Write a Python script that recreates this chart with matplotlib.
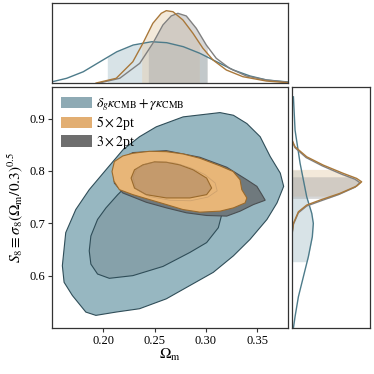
import numpy as np
import matplotlib
matplotlib.use("Agg")
import matplotlib.pyplot as plt
from matplotlib.patches import Patch

plt.rcParams["font.family"] = ["Liberation Serif", "DejaVu Serif"]
plt.rcParams["mathtext.fontset"] = "stix"
plt.rcParams["font.size"] = 9

# 2D contours (Omega_m, S8)
blue_outer_om = [0.3137, 0.2778, 0.2516, 0.2353, 0.2190, 0.2026, 0.1863, 0.1732, 0.1634,
                 0.1601, 0.1618, 0.1699, 0.1830, 0.1928, 0.2124, 0.2353, 0.2614, 0.2843,
                 0.3072, 0.3268, 0.3431, 0.3595, 0.3693, 0.3758, 0.3725, 0.3627, 0.3529,
                 0.3399, 0.3268]
blue_outer_s8 = [0.9114, 0.9032, 0.8842, 0.8653, 0.8400, 0.8021, 0.7642, 0.7263, 0.6821,
                 0.6189, 0.5873, 0.5620, 0.5304, 0.5241, 0.5304, 0.5368, 0.5557, 0.5810,
                 0.6063, 0.6378, 0.6694, 0.7073, 0.7389, 0.7705, 0.7958, 0.8274, 0.8653,
                 0.8905, 0.9063]
blue_inner_om = [0.1863, 0.1879, 0.1944, 0.2026, 0.2141, 0.2255, 0.2418, 0.2680, 0.2941,
                 0.3137, 0.3163, 0.3121, 0.3007, 0.2843, 0.2582, 0.2288, 0.2059, 0.1944,
                 0.1879]
blue_inner_s8 = [0.6473, 0.6757, 0.7073, 0.7294, 0.7547, 0.7768, 0.7958, 0.8021, 0.7894,
                 0.7579, 0.7231, 0.6915, 0.6631, 0.6442, 0.6176, 0.6000, 0.5949, 0.6031,
                 0.6220]
grey_outer_om = [0.2098, 0.2124, 0.2288, 0.2614, 0.2941, 0.3203, 0.3399, 0.3497, 0.3546,
                 0.3578, 0.3464, 0.3333, 0.3203, 0.3007, 0.2810, 0.2614, 0.2418, 0.2190,
                 0.2108]
grey_outer_s8 = [0.7989, 0.8179, 0.8350, 0.8387, 0.8261, 0.8071, 0.7831, 0.7705, 0.7547,
                 0.7440, 0.7358, 0.7231, 0.7137, 0.7149, 0.7200, 0.7295, 0.7402, 0.7579,
                 0.7768]
grey_inner_om = [0.2290, 0.2330, 0.2420, 0.2550, 0.2700, 0.2850, 0.2990, 0.3090, 0.3110,
                 0.3020, 0.2850, 0.2650, 0.2450, 0.2320]
grey_inner_s8 = [0.7880, 0.8050, 0.8140, 0.8180, 0.8150, 0.8060, 0.7930, 0.7770, 0.7620,
                 0.7500, 0.7430, 0.7440, 0.7510, 0.7650]
orange_outer_om = [0.2085, 0.2108, 0.2190, 0.2288, 0.2451, 0.2614, 0.2778, 0.2941, 0.3137,
                   0.3265, 0.3333, 0.3350, 0.3399, 0.3382, 0.3268, 0.3137, 0.2941, 0.2775,
                   0.2614, 0.2451, 0.2288, 0.2157, 0.2105]
orange_outer_s8 = [0.7989, 0.8179, 0.8286, 0.8337, 0.8375, 0.8368, 0.8324, 0.8242, 0.8097,
                   0.7989, 0.7831, 0.7642, 0.7484, 0.7389, 0.7294, 0.7231, 0.7212, 0.7263,
                   0.7358, 0.7452, 0.7547, 0.7642, 0.7800]
orange_inner_om = [0.2271, 0.2304, 0.2386, 0.2500, 0.2614, 0.2745, 0.2876, 0.3007, 0.3056,
                   0.3007, 0.2843, 0.2614, 0.2418, 0.2304]
orange_inner_s8 = [0.7863, 0.8021, 0.8116, 0.8173, 0.8166, 0.8116, 0.8021, 0.7863, 0.7673,
                   0.7547, 0.7484, 0.7484, 0.7547, 0.7673]

# 1D marginals: Omega_m (top panel)
blue_om_x = [0.1503, 0.1643, 0.1805, 0.1968, 0.2131, 0.2292, 0.2472, 0.2618, 0.2780,
             0.2942, 0.3105, 0.3267, 0.3430, 0.3593, 0.3803]
blue_om_p = [0.016, 0.059, 0.141, 0.266, 0.390, 0.475, 0.516, 0.504, 0.454,
             0.371, 0.266, 0.163, 0.088, 0.038, 0.013]
orange_om_x = [0.1930, 0.2126, 0.2288, 0.2386, 0.2483, 0.2565, 0.2614, 0.2679, 0.2776,
               0.2874, 0.2971, 0.3069, 0.3199, 0.3361, 0.3589, 0.3800]
orange_om_p = [0.000, 0.059, 0.266, 0.496, 0.746, 0.871, 0.904, 0.891, 0.788,
               0.621, 0.434, 0.288, 0.163, 0.079, 0.025, 0.004]
grey_om_x = [0.1960, 0.2160, 0.2355, 0.2483, 0.2581, 0.2662, 0.2727, 0.2809, 0.2906,
             0.3004, 0.3101, 0.3231, 0.3394, 0.3589, 0.3800]
grey_om_p = [0.000, 0.059, 0.246, 0.496, 0.725, 0.838, 0.871, 0.838, 0.684,
             0.475, 0.309, 0.184, 0.088, 0.038, 0.009]

# 1D marginals: S8 (right panel)
blue_s8_y = [0.5000, 0.5216, 0.5597, 0.5979, 0.6361, 0.6743, 0.6998, 0.7189, 0.7506,
             0.8144, 0.8779, 0.9415]
blue_s8_p = [0.017, 0.038, 0.081, 0.145, 0.209, 0.260, 0.273, 0.253, 0.188,
             0.103, 0.038, 0.017]
orange_s8_y = [0.6808, 0.6998, 0.7220, 0.7348, 0.7443, 0.7571, 0.7710, 0.7792, 0.7857,
               0.7953, 0.8111, 0.8270, 0.8461, 0.8588]
orange_s8_p = [0.000, 0.017, 0.081, 0.188, 0.359, 0.615, 0.829, 0.894, 0.829,
               0.658, 0.400, 0.188, 0.038, 0.000]
grey_s8_y = [0.6790, 0.6980, 0.7200, 0.7330, 0.7420, 0.7550, 0.7690, 0.7775, 0.7840,
             0.7935, 0.8095, 0.8255, 0.8445, 0.8575]
grey_s8_p = [0.000, 0.017, 0.081, 0.188, 0.355, 0.600, 0.810, 0.872, 0.810,
             0.640, 0.390, 0.180, 0.036, 0.000]

# 68% intervals
blue_om_band = (0.2039, 0.3008)
orange_om_band = (0.2374, 0.2936)
grey_om_band = (0.2439, 0.3014)
blue_s8_band = (0.6266, 0.8016)
orange_s8_band = (0.7520, 0.8029)
grey_s8_band = (0.7475, 0.7888)

labels = [r"$\delta_g\kappa_{\rm CMB}+\gamma\kappa_{\rm CMB}$", r"$5\times2$pt", r"$3\times2$pt"]

c_blue_out, c_blue_in, c_blue_edge, c_blue_line = "#97b7c1", "#86a1aa", "#2f4d58", "#4d7b8a"
c_or_out, c_or_in, c_or_edge, c_or_line = "#e8b678", "#c49a6c", "#9a6a2c", "#a9783a"
c_gr_out, c_gr_in, c_gr_edge, c_gr_line = "#6f797d", "#6a7276", "#4a4f52", "#808080"

fig = plt.figure(figsize=(3.74, 3.74), dpi=100)
ax = fig.add_axes([0.139, 0.123, 0.631, 0.644])
ax_top = fig.add_axes([0.139, 0.778, 0.631, 0.214])
ax_right = fig.add_axes([0.781, 0.123, 0.208, 0.644])

ax.fill(blue_outer_om, blue_outer_s8, fc=c_blue_out, ec=c_blue_edge, lw=0.8)
ax.fill(blue_inner_om, blue_inner_s8, fc=c_blue_in, ec=c_blue_edge, lw=0.8)
ax.fill(grey_outer_om, grey_outer_s8, fc=c_gr_out, ec=c_gr_edge, lw=0.8)
ax.fill(grey_inner_om, grey_inner_s8, fc=c_gr_in, ec=c_gr_edge, lw=0.8)
ax.fill(orange_outer_om, orange_outer_s8, fc=c_or_out, ec=c_or_edge, lw=0.8)
ax.fill(orange_inner_om, orange_inner_s8, fc=c_or_in, ec=c_or_edge, lw=0.8)
# faint 3x2pt inner line showing through the 5x2pt fill
ax.fill(grey_inner_om, grey_inner_s8, fc="none", ec="#b08a62", lw=0.6, alpha=0.45)

ax.set_xlim(0.15, 0.38)
ax.set_ylim(0.50, 0.96)
ax.set_xticks([0.20, 0.25, 0.30, 0.35])
ax.set_yticks([0.6, 0.7, 0.8, 0.9])
ax.set_xlabel(r"$\Omega_{\rm m}$", fontsize=11, labelpad=0)
ax.set_ylabel(r"$S_8 \equiv \sigma_8(\Omega_{\rm m}/0.3)^{0.5}$", fontsize=11, labelpad=3)
ax.tick_params(length=3, width=0.8, color="#333333", pad=2, labelsize=9)

handles = [Patch(fc="#8eaab4", ec="none"), Patch(fc="#e2ae72", ec="none"),
           Patch(fc="#6e6e6e", ec="none")]
ax.legend(handles, labels, loc="upper left", frameon=False, fontsize=10,
          handlelength=2.2, handleheight=0.9, labelspacing=0.1,
          borderaxespad=0.25, handletextpad=0.3)


def band_poly(x, p, lo, hi):
    x = np.asarray(x)
    p = np.asarray(p)
    inside = (x > lo) & (x < hi)
    xs = np.concatenate([[lo], x[inside], [hi]])
    ps = np.concatenate([[np.interp(lo, x, p)], p[inside], [np.interp(hi, x, p)]])
    return xs, ps


for x, p, band, bcol in [
    (blue_om_x, blue_om_p, blue_om_band, "#a9c2ca"),
    (orange_om_x, orange_om_p, orange_om_band, "#e6cfae"),
    (grey_om_x, grey_om_p, grey_om_band, "#a8a8a8"),
]:
    xs, ps = band_poly(x, p, *band)
    ax_top.fill_between(xs, 0, ps, color=bcol, alpha=0.45, lw=0)
for x, p, col in [(blue_om_x, blue_om_p, c_blue_line), (grey_om_x, grey_om_p, c_gr_line),
                  (orange_om_x, orange_om_p, c_or_line)]:
    ax_top.plot(x, p, color=col, lw=1.0)

for y, p, band, bcol in [
    (blue_s8_y, blue_s8_p, blue_s8_band, "#a9c2ca"),
    (orange_s8_y, orange_s8_p, orange_s8_band, "#e6cfae"),
    (grey_s8_y, grey_s8_p, grey_s8_band, "#a8a8a8"),
]:
    ys, ps = band_poly(y, p, *band)
    ax_right.fill_betweenx(ys, 0, ps, color=bcol, alpha=0.45, lw=0)
for y, p, col in [(blue_s8_y, blue_s8_p, c_blue_line), (grey_s8_y, grey_s8_p, c_gr_line),
                  (orange_s8_y, orange_s8_p, c_or_line)]:
    ax_right.plot(p, y, color=col, lw=1.0)

ax_top.set_xlim(0.15, 0.38)
ax_top.set_ylim(0, 1.0)
ax_right.set_ylim(0.50, 0.96)
ax_right.set_xlim(0, 1.0)
for a in (ax_top, ax_right):
    a.set_xticks([])
    a.set_yticks([])
for a in (ax, ax_top, ax_right):
    for s in a.spines.values():
        s.set_color("#333333")
        s.set_linewidth(0.9)

fig.savefig("out.png", dpi=100)
